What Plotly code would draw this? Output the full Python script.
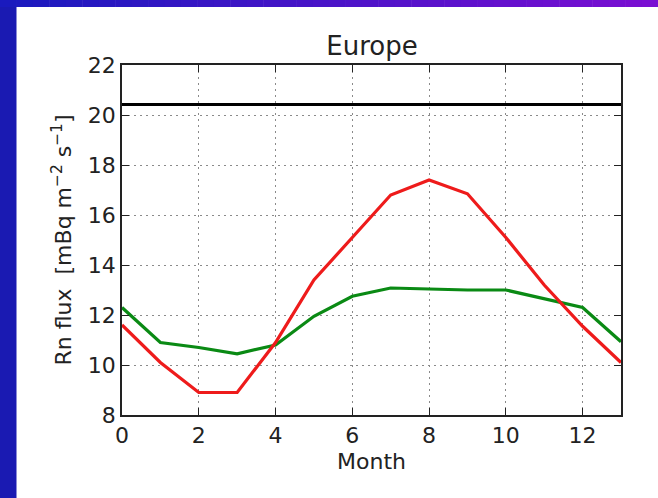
import plotly.graph_objects as go

months = list(range(14))
red_flux = [11.6, 10.1, 8.9, 8.9, 10.9, 13.4, 15.1, 16.8, 17.4, 16.85, 15.1, 13.2, 11.55, 10.1]
green_flux = [12.3, 10.9, 10.7, 10.45, 10.8, 11.95, 12.75, 13.08, 13.04, 13.0, 13.0, 12.65, 12.3, 10.93]
black_level = [20.42] * 14

x_ticks = [0, 2, 4, 6, 8, 10, 12]
y_ticks = [8, 10, 12, 14, 16, 18, 20, 22]

W, H = 658, 498
L, R, T, B = 122, 37, 65, 83
pw, ph = W - L - R, H - T - B

def px_x(p):
    return (p - L) / pw

def px_y(p):
    return (H - B - p) / ph

fig = go.Figure()
fig.add_trace(go.Scatter(x=months, y=black_level, mode="lines",
                         line=dict(color="black", width=3.2), showlegend=False))
fig.add_trace(go.Scatter(x=months, y=green_flux, mode="lines",
                         line=dict(color="#0a8a14", width=3.2), showlegend=False))
fig.add_trace(go.Scatter(x=months, y=red_flux, mode="lines",
                         line=dict(color="#ee1b1b", width=3.2), showlegend=False))

shapes = []
# left blue strip
shapes.append(dict(type="rect", xref="paper", yref="paper", layer="below",
                   x0=px_x(0), x1=px_x(16.5), y0=px_y(H), y1=px_y(0),
                   fillcolor="rgb(26,26,178)", line=dict(width=0)))
# top gradient strip
n = 40
c0 = (26, 26, 190)
c1 = (122, 14, 210)
for i in range(n):
    t = i / (n - 1)
    col = tuple(int(round(c0[k] + (c1[k] - c0[k]) * t)) for k in range(3))
    xa = W * i / n
    xb = W * (i + 1) / n + 0.5
    shapes.append(dict(type="rect", xref="paper", yref="paper", layer="below",
                       x0=px_x(xa), x1=px_x(xb), y0=px_y(7), y1=px_y(0),
                       fillcolor="rgb(%d,%d,%d)" % col, line=dict(width=0)))

axis_common = dict(ticks="inside", ticklen=7, tickcolor="#222222", tickwidth=1.2,
                   showline=True, linecolor="#222222", linewidth=1.6,
                   mirror="ticks", showgrid=True, gridcolor="#8a8a8a",
                   griddash="2px,4px", gridwidth=1.2, zeroline=False,
                   tickfont=dict(size=22))

fig.update_layout(
    width=W, height=H,
    margin=dict(l=L, r=R, t=T, b=B, pad=0),
    paper_bgcolor="white", plot_bgcolor="white",
    font=dict(family="DejaVu Sans", size=22, color="#222222"),
    title=dict(text="Europe", xref="container", x=372 / W, xanchor="center",
               yref="container", y=1 - 46 / H, yanchor="middle",
               font=dict(size=26, color="#222222")),
    shapes=shapes,
    xaxis=dict(range=[0, 13], tickvals=x_ticks,
               title=dict(text="Month", standoff=6, font=dict(size=22)),
               **axis_common),
    yaxis=dict(range=[8, 22], tickvals=y_ticks,
               title=dict(text="Rn flux  [mBq m<sup>−2</sup> s<sup>−1</sup>]",
                          standoff=10, font=dict(size=22)),
               **axis_common),
)

fig.write_html("out.html")
